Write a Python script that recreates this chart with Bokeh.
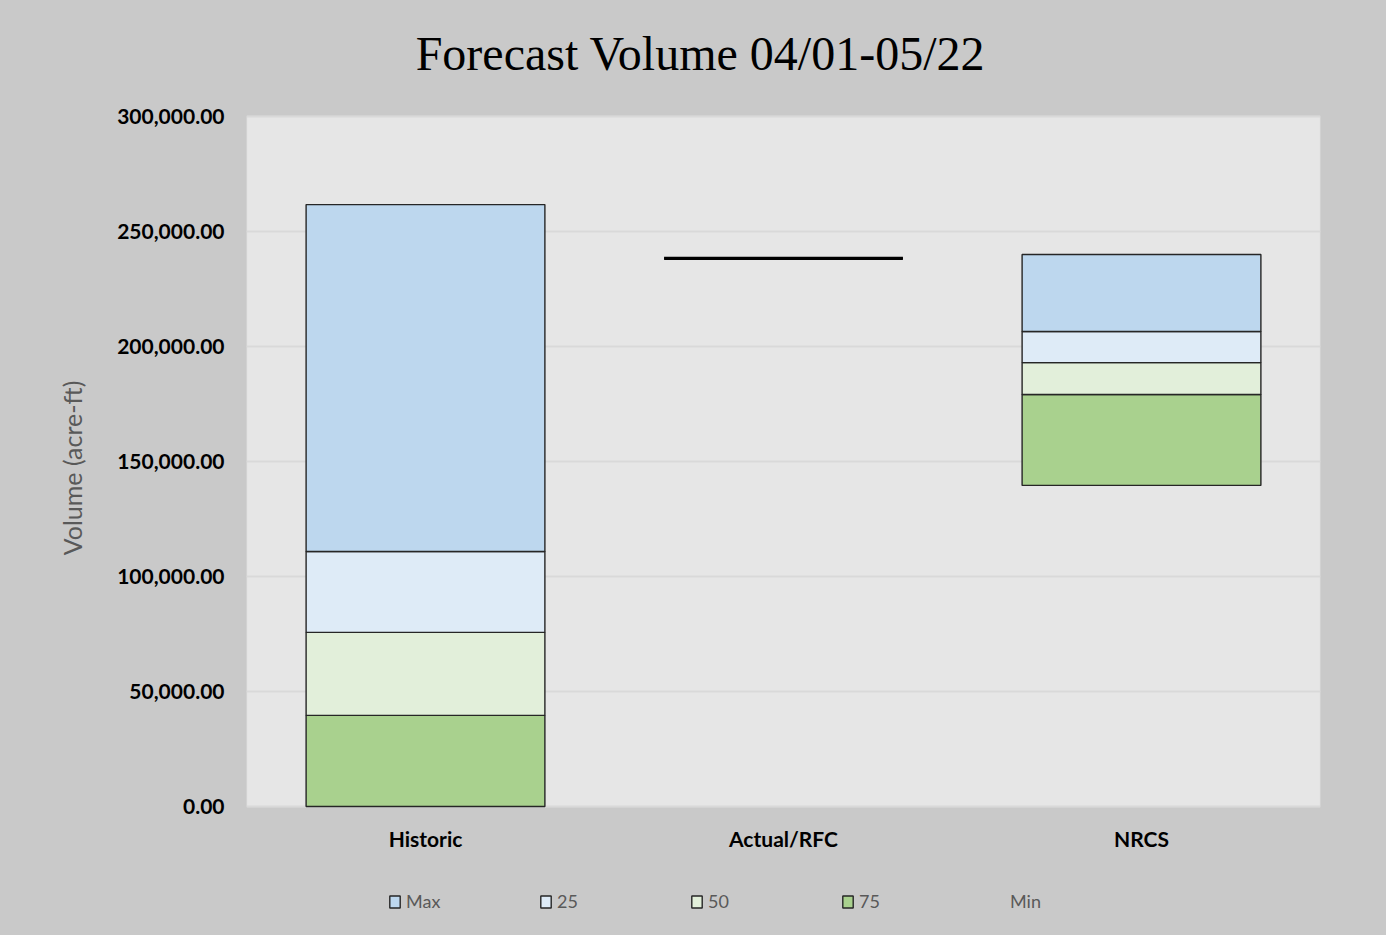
from bokeh.plotting import figure
from bokeh.models import (ColumnDataSource, FactorRange, NumeralTickFormatter,
                          FixedTicker, Legend, LegendItem, Range1d, BoxAnnotation)
from bokeh.core.properties import value
from bokeh.embed import file_html
from bokeh.resources import INLINE

# ---- data ----
title_text = "Forecast Volume 04/01-05/22"
categories = ["Historic", "Actual/RFC", "NRCS"]
min_vals = [0, 238300, 139600]
p75_vals = [39600, 0, 39500]
p50_vals = [36100, 0, 13900]
p25_vals = [35200, 0, 13500]
max_vals = [150800, 0, 33500]
actual_categories = ["Actual/RFC"]
actual_values = [238300]
y_ticks = [0, 50000, 100000, 150000, 200000, 250000, 300000]
y_max = 300000
legend_order = ["Max", "25", "50", "75", "Min"]

series = ["Min", "75", "50", "25", "Max"]
colors = {"Min": "#ffffff", "75": "#a9d18e", "50": "#e2efda",
          "25": "#deebf7", "Max": "#bdd7ee"}

source = ColumnDataSource({"cat": categories, "Min": min_vals, "75": p75_vals,
                           "50": p50_vals, "25": p25_vals, "Max": max_vals})

BG = "#c9c9c9"
W, H = 1386, 935
TOP, LEFT, RIGHT, BOTTOM = 116, 246, 1320, 806   # grey plot-area edges (px)
PLOT_PX = BOTTOM - TOP
units_per_px = y_max / PLOT_PX
y_start = -(H - BOTTOM) * units_per_px           # frame spans the full height so
y_end = y_max + TOP * units_per_px               # title and legend can live in it

p = figure(width=W, height=H, x_range=FactorRange(*categories, range_padding=0),
           y_range=Range1d(y_start, y_end), output_backend="svg", toolbar_location=None,
           min_border_left=LEFT, min_border_right=W - RIGHT, min_border_top=0,
           min_border_bottom=0)
p.styles = {"background-color": BG}

p.border_fill_color = BG
p.background_fill_color = BG
p.outline_line_color = None

# grey plot area (0 .. y_max)
area = BoxAnnotation(bottom=0, top=y_max, fill_color="#e6e6e6", fill_alpha=1,
                     line_color="#dcdcdc", line_width=2, level="image")
p.add_layout(area)

# title
t_src = ColumnDataSource(dict(x=[categories[1]], y=[y_end], t=[title_text]))
p.text(x="x", y="y", text="t", source=t_src, x_offset=-83, y_offset=53,
       text_align="center", text_baseline="middle",
       text_font=value("Liberation Serif"), text_font_size="48px",
       text_color="#000000")

renderers = p.vbar_stack(series, x="cat", width=0.667, source=source,
                         color=[colors[s] for s in series],
                         line_color="#262626", line_width=1.4)
# Min is an invisible base series
renderers[0].glyph.fill_alpha = 0
renderers[0].glyph.line_alpha = 0

act_src = ColumnDataSource(dict(cat=actual_categories, v=actual_values))
p.vbar(x="cat", bottom="v", top="v", width=0.667, source=act_src,
       line_color="#000000", line_width=3.2)

# category labels under the plot area
lab_src = ColumnDataSource(dict(cat=categories, y=[0] * len(categories)))
p.text(x="cat", y="y", text="cat", source=lab_src, y_offset=32,
       text_align="center", text_baseline="middle",
       text_font=value("Lato"), text_font_style="bold", text_font_size="21px",
       text_color="#000000")

# axes
p.xaxis.visible = False
p.yaxis.bounds = (0, y_max)
p.yaxis.ticker = FixedTicker(ticks=y_ticks)
p.yaxis.formatter = NumeralTickFormatter(format="0,0.00")
p.yaxis.axis_label = "Volume (acre-ft)"
p.yaxis.axis_label_text_font = "Lato"
p.yaxis.axis_label_text_font_size = "25px"
p.yaxis.axis_label_text_font_style = "normal"
p.yaxis.axis_label_text_color = "#595959"
p.yaxis.axis_label_standoff = 27
p.yaxis.axis_line_color = None
p.yaxis.major_tick_line_color = None
p.yaxis.minor_tick_line_color = None
p.yaxis.major_label_text_font = "Lato"
p.yaxis.major_label_text_font_size = "21px"
p.yaxis.major_label_text_font_style = "bold"
p.yaxis.major_label_text_color = "#000000"
p.yaxis.major_label_standoff = 16

p.xgrid.grid_line_color = None
p.ygrid.grid_line_color = "#d9d9d9"
p.ygrid.grid_line_width = 2

# legend (order: Max, 25, 50, 75, Min)
name_to_r = dict(zip(series, renderers))
items = [LegendItem(label=s, renderers=[name_to_r[s]]) for s in legend_order]
legend = Legend(items=items, orientation="horizontal", location=(142, 23),
                glyph_width=13, glyph_height=15, label_standoff=5, label_width=109,
                spacing=24, padding=0, margin=0,
                label_text_font="Lato", label_text_font_size="18px",
                label_text_color="#595959",
                background_fill_alpha=0, border_line_color=None)
p.add_layout(legend, "center")

open("out.html", "w").write(file_html(p, INLINE))
